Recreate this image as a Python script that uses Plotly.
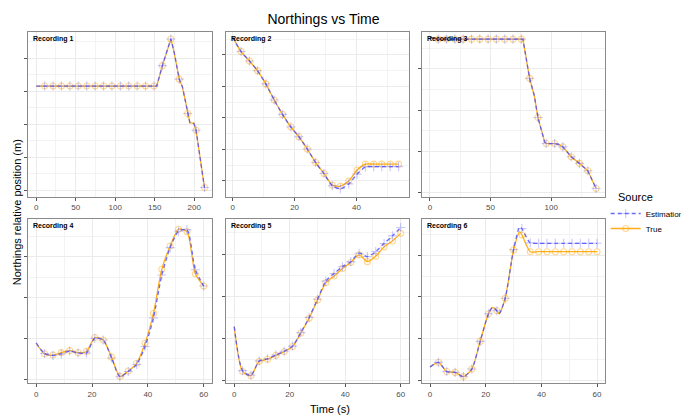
import plotly.graph_objects as go

# ---------------- data (y in units of the hidden y ticks) ----------------
# Recording 1
r1_line_t = [0, 152.5, 159.7, 170.4, 174.5, 181.0, 185.0, 191.7, 194.5, 199.5, 202.3, 213.0]
r1_line_true = [3.16, 3.16, 3.78, 4.59, 4.20, 3.37, 3.14, 2.33, 2.05, 2.03, 1.82, 0.08]
r1_line_est = [3.16, 3.16, 3.78, 4.59, 4.20, 3.37, 3.14, 2.33, 2.05, 2.03, 1.82, 0.08]
r1_mark_t = [10.6, 21.3, 31.9, 42.6, 53.2, 63.9, 74.5, 85.2, 95.8, 106.5,
             117.1, 127.8, 138.4, 149.1, 159.7, 170.4, 181.0, 191.7, 202.3, 213.0]
r1_mark_true = [3.16, 3.16, 3.16, 3.16, 3.16, 3.16, 3.16, 3.16, 3.16, 3.16,
                3.16, 3.16, 3.16, 3.16, 3.78, 4.59, 3.37, 2.33, 1.82, 0.08]
r1_mark_est = [3.16, 3.16, 3.16, 3.16, 3.16, 3.16, 3.16, 3.16, 3.16, 3.16,
               3.16, 3.16, 3.16, 3.16, 3.78, 4.59, 3.37, 2.33, 1.82, 0.08]

# Recording 2
r2_line_t = [0, 2.7, 5.4, 8.0, 10.7, 13.4, 16.1, 18.8, 21.4, 24.1, 26.8,
             29.5, 32.2, 34.8, 37.5, 40.2, 42.9, 45.6, 48.2, 50.9, 53.6]
r2_line_true = [4.56, 4.11, 3.81, 3.50, 3.08, 2.57, 2.11, 1.71, 1.40, 1.01, 0.58,
                0.23, -0.14, -0.17, -0.01, 0.34, 0.53, 0.53, 0.53, 0.53, 0.53]
r2_line_est = [4.56, 4.11, 3.81, 3.50, 3.08, 2.57, 2.11, 1.71, 1.40, 1.01, 0.58,
               0.23, -0.16, -0.25, -0.10, 0.21, 0.44, 0.45, 0.45, 0.45, 0.45]
r2_mark_t = [2.7, 5.4, 8.0, 10.7, 13.4, 16.1, 18.8, 21.4, 24.1, 26.8,
             29.5, 32.2, 34.8, 37.5, 40.2, 42.9, 45.6, 48.2, 50.9, 53.6]
r2_mark_true = [4.11, 3.81, 3.50, 3.08, 2.57, 2.11, 1.71, 1.40, 1.01, 0.58,
                0.23, -0.14, -0.17, -0.01, 0.34, 0.53, 0.53, 0.53, 0.53, 0.53]
r2_mark_est = [4.11, 3.81, 3.50, 3.08, 2.57, 2.11, 1.71, 1.40, 1.01, 0.58,
               0.23, -0.16, -0.25, -0.10, 0.21, 0.44, 0.45, 0.45, 0.45, 0.45]

# Recording 3
r3_line_t = [0, 6.9, 76.7, 82.2, 86.0, 89.1, 94.6, 95.9, 102.8, 106.0,
             109.6, 116.5, 123.3, 130.2, 137.0]
r3_line_true = [3.76, 3.72, 3.72, 2.77, 2.36, 1.82, 1.23, 1.19, 1.19, 1.17,
                1.11, 0.87, 0.71, 0.53, 0.10]
r3_line_est = [3.76, 3.72, 3.72, 2.77, 2.36, 1.82, 1.23, 1.19, 1.19, 1.17,
               1.11, 0.87, 0.71, 0.53, 0.10]
r3_mark_t = [6.9, 13.7, 20.6, 27.4, 34.3, 41.1, 48.0, 54.8, 61.7, 68.5,
             75.4, 82.2, 89.1, 95.9, 102.8, 109.6, 116.5, 123.3, 130.2, 137.0]
r3_mark_true = [3.72, 3.72, 3.72, 3.72, 3.72, 3.72, 3.72, 3.72, 3.72, 3.72,
                3.72, 2.77, 1.82, 1.19, 1.19, 1.11, 0.87, 0.71, 0.53, 0.10]
r3_mark_est = [3.72, 3.72, 3.72, 3.72, 3.72, 3.72, 3.72, 3.72, 3.72, 3.72,
               3.72, 2.77, 1.82, 1.19, 1.19, 1.11, 0.87, 0.71, 0.53, 0.10]

# Recording 4
r4_line_t = [0, 3, 6, 9, 12, 15, 18, 21, 24, 27, 30, 33, 36, 39, 42, 45, 48, 51, 54, 57, 60]
r4_line_true = [0.88, 0.62, 0.59, 0.65, 0.70, 0.65, 0.68, 1.02, 0.96, 0.54, 0.07,
                0.20, 0.39, 0.88, 1.61, 2.69, 3.26, 3.67, 3.61, 2.58, 2.28]
r4_line_est = [0.89, 0.63, 0.58, 0.62, 0.69, 0.64, 0.64, 1.00, 0.96, 0.52, 0.06,
               0.19, 0.36, 0.80, 1.50, 2.55, 3.22, 3.62, 3.66, 2.68, 2.28]
r4_mark_t = [3, 6, 9, 12, 15, 18, 21, 24, 27, 30, 33, 36, 39, 42, 45, 48, 51, 54, 57, 60]
r4_mark_true = [0.62, 0.59, 0.65, 0.70, 0.65, 0.68, 1.02, 0.96, 0.54, 0.07,
                0.20, 0.39, 0.88, 1.61, 2.69, 3.26, 3.67, 3.61, 2.58, 2.28]
r4_mark_est = [0.63, 0.58, 0.62, 0.69, 0.64, 0.64, 1.00, 0.96, 0.52, 0.06,
               0.19, 0.36, 0.80, 1.50, 2.55, 3.22, 3.62, 3.66, 2.68, 2.28]

# Recording 5
r5_line_t = [0, 3, 6, 9, 12, 15, 18, 21, 24, 27, 30, 33, 36, 39, 42, 45, 48, 51, 54, 57, 60]
r5_line_true = [1.28, 0.22, 0.12, 0.46, 0.51, 0.60, 0.69, 0.81, 1.13, 1.48, 1.91,
                2.32, 2.48, 2.66, 2.80, 2.98, 2.82, 2.95, 3.17, 3.31, 3.49]
r5_line_est = [1.28, 0.24, 0.13, 0.47, 0.52, 0.61, 0.70, 0.82, 1.14, 1.50, 1.93,
               2.36, 2.54, 2.70, 2.82, 3.02, 2.94, 3.06, 3.25, 3.43, 3.63]
r5_mark_t = [3, 6, 9, 12, 15, 18, 21, 24, 27, 30, 33, 36, 39, 42, 45, 48, 51, 54, 57, 60]
r5_mark_true = [0.22, 0.12, 0.46, 0.51, 0.60, 0.69, 0.81, 1.13, 1.48, 1.91,
                2.32, 2.48, 2.66, 2.80, 2.98, 2.82, 2.95, 3.17, 3.31, 3.49]
r5_mark_est = [0.24, 0.13, 0.47, 0.52, 0.61, 0.70, 0.82, 1.14, 1.50, 1.93,
               2.36, 2.54, 2.70, 2.82, 3.02, 2.94, 3.06, 3.25, 3.43, 3.63]

# Recording 6
r6_line_t = [0, 3, 6, 9, 12, 15, 18, 21, 22.5, 24, 24.8, 27, 30, 32.2, 33, 36,
             39, 42, 45, 48, 51, 54, 57, 60]
r6_line_true = [0.33, 0.44, 0.22, 0.20, 0.10, 0.28, 0.94, 1.60, 1.75, 1.67, 1.60, 1.97,
                3.12, 3.56, 3.48, 3.08, 3.08, 3.08, 3.08, 3.08, 3.08, 3.08, 3.08, 3.08]
r6_line_est = [0.33, 0.44, 0.22, 0.20, 0.10, 0.28, 0.94, 1.60, 1.75, 1.67, 1.60, 1.97,
               3.13, 3.67, 3.63, 3.29, 3.28, 3.28, 3.28, 3.28, 3.28, 3.28, 3.28, 3.28]
r6_mark_t = [3, 6, 9, 12, 15, 18, 21, 24, 27, 30, 33, 36, 39, 42, 45, 48, 51, 54, 57, 60]
r6_mark_true = [0.44, 0.22, 0.20, 0.10, 0.28, 0.94, 1.60, 1.67, 1.97, 3.12,
                3.48, 3.08, 3.08, 3.08, 3.08, 3.08, 3.08, 3.08, 3.08, 3.08]
r6_mark_est = [0.44, 0.22, 0.20, 0.10, 0.28, 0.94, 1.60, 1.67, 1.97, 3.13,
               3.63, 3.29, 3.28, 3.28, 3.28, 3.28, 3.28, 3.28, 3.28, 3.28]

recordings = [
    ("Recording 1", r1_line_t, r1_line_true, r1_line_est, r1_mark_t, r1_mark_true, r1_mark_est),
    ("Recording 2", r2_line_t, r2_line_true, r2_line_est, r2_mark_t, r2_mark_true, r2_mark_est),
    ("Recording 3", r3_line_t, r3_line_true, r3_line_est, r3_mark_t, r3_mark_true, r3_mark_est),
    ("Recording 4", r4_line_t, r4_line_true, r4_line_est, r4_mark_t, r4_mark_true, r4_mark_est),
    ("Recording 5", r5_line_t, r5_line_true, r5_line_est, r5_mark_t, r5_mark_true, r5_mark_est),
    ("Recording 6", r6_line_t, r6_line_true, r6_line_est, r6_mark_t, r6_mark_true, r6_mark_est),
]
line_shapes = ["linear", "spline", "linear", "spline", "spline", "spline"]
x_ranges = [[-10.7, 222.6], [-2.2, 57.0], [-6.75, 144.7], [-3, 63], [-3, 63], [-3, 63]]
y_ranges = [[-0.20, 4.81], [-0.51, 4.74], [-0.10, 3.90], [-0.10, 3.92], [-0.06, 3.83], [-0.06, 3.86]]
x_dticks = [50, 20, 50, 20, 20, 20]

# ---------------- styling ----------------
OFF = 8  # page body margin offset of the figure in the window
W, H = 689 - OFF, 418 - OFF  # figure fits the window without scrollbars
FONT = "Liberation Sans, Arial, sans-serif"
BLUE = "rgba(80,80,255,0.85)"
BLUE_M = "rgba(110,110,255,0.38)"
ORANGE = "rgba(255,165,0,0.9)"
ORANGE_M = "rgba(255,165,0,0.42)"


def px_x(v):
    return (v - OFF) / W


def px_y(v):
    return 1 - (v - OFF) / H


col_px = [(28.3, 217.3), (231.5, 419.3), (432.3, 620.7)]
row_px = [(31.7, 196.8), (219.0, 383.3)]

fig = go.Figure()
layout = {}
annotations = []

for i, (name, lt, ltrue, lest, mt, mtrue, mest) in enumerate(recordings):
    r, c = divmod(i, 3)
    xa = "x" if i == 0 else f"x{i+1}"
    ya = "y" if i == 0 else f"y{i+1}"
    shape = line_shapes[i]
    fig.add_trace(go.Scatter(x=lt, y=ltrue, mode="lines", xaxis=xa, yaxis=ya,
                             line=dict(color=ORANGE, width=1.3, shape=shape, smoothing=0.7),
                             showlegend=False, hoverinfo="skip"))
    fig.add_trace(go.Scatter(x=mt, y=mtrue, mode="markers", xaxis=xa, yaxis=ya,
                             marker=dict(symbol="circle-open", size=6, color=ORANGE_M,
                                         line=dict(width=1.1, color=ORANGE_M)),
                             showlegend=False))
    fig.add_trace(go.Scatter(x=mt, y=mest, mode="markers", xaxis=xa, yaxis=ya,
                             marker=dict(symbol="cross-thin", size=6.5, color=BLUE_M,
                                         line=dict(width=1.1, color=BLUE_M)),
                             showlegend=False))
    fig.add_trace(go.Scatter(x=lt, y=lest, mode="lines", xaxis=xa, yaxis=ya,
                             line=dict(color=BLUE, width=1.3, dash="4px,3px", shape=shape, smoothing=0.7),
                             showlegend=False, hoverinfo="skip"))

    x0, x1 = col_px[c]
    y0, y1 = row_px[r]
    common = dict(showline=True, linecolor="#8a8a8a", linewidth=1, mirror=True,
                  showgrid=True, gridcolor="#EBEBEB", gridwidth=0.8, zeroline=False,
                  ticks="outside", ticklen=3, tickcolor="#555555", tickwidth=1)
    layout["xaxis" if i == 0 else f"xaxis{i+1}"] = dict(
        domain=[px_x(x0), px_x(x1)], anchor=ya, range=x_ranges[i],
        tick0=0, dtick=x_dticks[i],
        tickfont=dict(size=8, color="#4D4D4D", family=FONT),
        minor=dict(dtick=x_dticks[i] / 2, showgrid=True, gridcolor="#F3F3F3", gridwidth=0.6, ticks=""),
        **common)
    layout["yaxis" if i == 0 else f"yaxis{i+1}"] = dict(
        domain=[px_y(y1), px_y(y0)], anchor=xa, range=y_ranges[i],
        tick0=0, dtick=1, showticklabels=False,
        minor=dict(dtick=0.5, showgrid=True, gridcolor="#F3F3F3", gridwidth=0.6, ticks=""),
        **common)
    annotations.append(dict(text=f"<b>{name}</b>", x=px_x(x0 + 3), y=px_y(y0 + 1),
                            xref="paper", yref="paper", xanchor="left", yanchor="top",
                            showarrow=False, font=dict(size=7, color="black", family=FONT)))

# legend proxies
fig.add_trace(go.Scatter(x=[None], y=[None], mode="lines+markers", name="Estimation",
                         legend="legend",
                         line=dict(color=BLUE, width=1.3, dash="4px,3px"),
                         marker=dict(symbol="cross-thin", size=6.5, color=BLUE_M,
                                     line=dict(width=1.1, color=BLUE_M))))
fig.add_trace(go.Scatter(x=[None], y=[None], mode="lines+markers", name="True",
                         legend="legend2",
                         line=dict(color=ORANGE, width=1.3),
                         marker=dict(symbol="circle-open", size=6, color=ORANGE_M,
                                     line=dict(width=1.1, color=ORANGE_M))))

annotations.append(dict(text="Source", x=px_x(631.5), y=px_y(197),
                        xref="paper", yref="paper", showarrow=False,
                        xanchor="left", yanchor="middle",
                        font=dict(size=11, color="black", family=FONT)))
annotations.append(dict(text="Northings relative position (m)", x=px_x(17.5), y=px_y(212),
                        xref="paper", yref="paper", textangle=-90, showarrow=False,
                        xanchor="center", yanchor="middle",
                        font=dict(size=11, color="black", family=FONT)))
annotations.append(dict(text="Time (s)", x=px_x(338), y=px_y(409),
                        xref="paper", yref="paper", showarrow=False,
                        xanchor="center", yanchor="middle",
                        font=dict(size=11, color="black", family=FONT)))

LEG_X = 621
fig.update_layout(
    width=W, height=H,
    margin=dict(l=0, r=0, t=0, b=0),
    paper_bgcolor="white", plot_bgcolor="white",
    font=dict(family=FONT),
    title=dict(text="Northings vs Time", x=px_x(323.5), xanchor="center",
               y=px_y(19), yanchor="middle",
               font=dict(size=14, color="black", family=FONT)),
    legend=dict(x=px_x(LEG_X), y=px_y(199), xanchor="left", yanchor="top",
                font=dict(size=8, color="black", family=FONT),
                bgcolor="rgba(0,0,0,0)", tracegroupgap=0, itemwidth=30),
    legend2=dict(x=px_x(LEG_X), y=px_y(214), xanchor="left", yanchor="top",
                 font=dict(size=8, color="black", family=FONT),
                 bgcolor="rgba(0,0,0,0)", tracegroupgap=0, itemwidth=30),
    annotations=annotations,
    **layout,
)

fig.write_html("out.html")
